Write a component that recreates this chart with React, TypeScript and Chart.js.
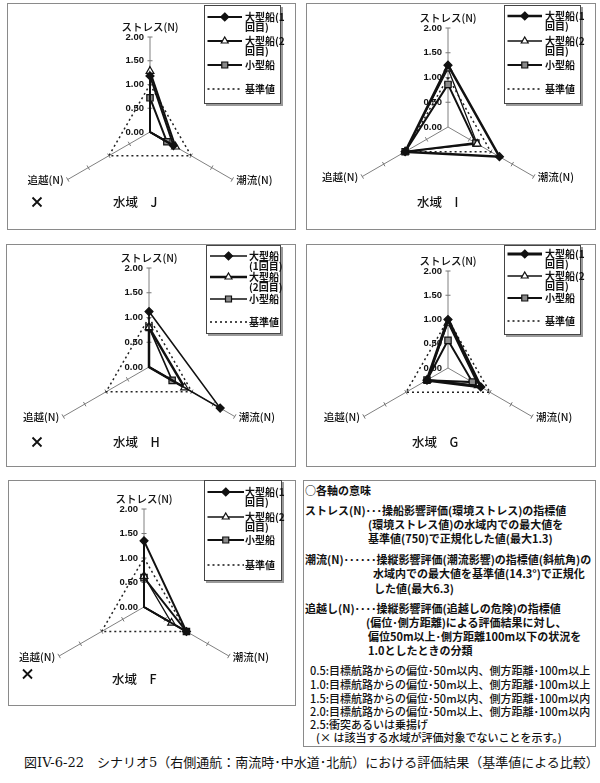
import React, { useEffect, useRef } from 'react';
import { Chart, registerables } from 'chart.js';
Chart.register(...registerables);

// ---- data ----
const axisLabels = ['ストレス(N)', '潮流(N)', '追越(N)'];
const tickValues = [0, 0.5, 1, 1.5, 2];
const seriesNames = ['大型船(1回目)', '大型船(2回目)', '小型船', '基準値'];
const baselineValues = [1, 1, 1];

const areaJ_large1 = [1.18, 0.57, 0];
const areaJ_large2 = [1.28, 0.62, 0];
const areaJ_small = [0.72, 0.41, 0];

const areaI_large1 = [1.25, 1.2, 1.0];
const areaI_large2 = [1.18, 0.68, 1.0];
const areaI_small = [0.86, 0.65, 1.0];

const areaH_large1 = [1.12, 1.66, 0];
const areaH_large2 = [0.8, 0.83, 0];
const areaH_small = [0.8, 0.54, 0];

const areaG_large1 = [1.0, 0.78, 0.5];
const areaG_large2 = [0.93, 0.72, 0.5];
const areaG_small = [0.57, 0.58, 0.5];

const areaF_large1 = [1.35, 1.0, 0];
const areaF_large2 = [0.63, 0.65, 0];
const areaF_small = [0.6, 1.0, 0];

const legendTextA = [['大型船(1', '回目)'], ['大型船(2', '回目)'], ['小型船'], ['基準値']];
const legendTextB = [['大型船', '(1回目)'], ['大型船', '(2回目)'], ['小型船'], ['基準値']];

const noteLines = [
  '○各軸の意味',
  'ストレス(N)･･･操船影響評価(環境ストレス)の指標値',
  '(環境ストレス値)の水域内での最大値を',
  '基準値(750)で正規化した値(最大1.3)',
  '潮流(N)･･････操縦影響評価(潮流影響)の指標値(斜航角)の',
  '水域内での最大値を基準値(14.3°)で正規化',
  'した値(最大6.3)',
  '追越し(N)････操縦影響評価(追越しの危険)の指標値',
  '(偏位･側方距離)による評価結果に対し、',
  '偏位50m以上･側方距離100m以下の状況を',
  '1.0としたときの分類',
  '0.5:目標航路からの偏位･50m以内、側方距離･100m以上',
  '1.0:目標航路からの偏位･50m以上、側方距離･100m以上',
  '1.5:目標航路からの偏位･50m以内、側方距離･100m以内',
  '2.0:目標航路からの偏位･50m以上、側方距離･100m以内',
  '2.5:衝突あるいは乗揚げ',
  '(× は該当する水域が評価対象でないことを示す。)',
];
const captionText = '図IV-6-22　シナリオ5（右側通航：南流時･中水道･北航）における評価結果（基準値による比較）';

// ---- layout ----
const noteLayout = [
  [305, 490], [305, 510], [368, 524], [368, 538], [305, 559], [373, 573], [374, 588],
  [305, 608], [366, 622], [368, 636], [368, 650], [310, 670], [310, 684], [310, 698],
  [310, 711], [310, 724], [316, 737],
];

type PanelCfg = {
  key: string; left: number; top: number; width: number; height: number;
  cx: number; cy: number; r: number; data: number[][]; widths: number[];
  legend: string[][]; legendBox: number[]; legendRows: number[]; legendX: number[];
  title: string; titleX: number; titleY: number; cross?: number[];
};

const panels: PanelCfg[] = [
  { key: 'J', left: 7, top: 3, width: 289, height: 227, cx: 143, cy: 129, r: 95,
    data: [areaJ_large1, areaJ_large2, areaJ_small], widths: [2, 2, 2],
    legend: legendTextA, legendBox: [197, 2, 77, 99], legendRows: [12, 36, 60, 84], legendX: [3.5, 38, 41],
    title: '水域　J', titleX: 106, titleY: 199, cross: [30, 199] },
  { key: 'I', left: 306, top: 3, width: 290, height: 227, cx: 142, cy: 124, r: 99,
    data: [areaI_large1, areaI_large2, areaI_small], widths: [2.5, 1.3, 2],
    legend: legendTextA, legendBox: [198, 2, 77, 99], legendRows: [11, 36, 60, 84], legendX: [3.5, 38, 41],
    title: '水域　I', titleX: 111, titleY: 199 },
  { key: 'H', left: 6, top: 244, width: 290, height: 223, cx: 143, cy: 123, r: 99,
    data: [areaH_large1, areaH_large2, areaH_small], widths: [1.6, 2.5, 1.6],
    legend: legendTextB, legendBox: [200, 1, 75, 89], legendRows: [11, 32, 54, 77], legendX: [4, 41, 43],
    title: '水域　H', titleX: 107, titleY: 198, cross: [31, 198] },
  { key: 'G', left: 306, top: 244, width: 290, height: 223, cx: 142, cy: 124, r: 97,
    data: [areaG_large1, areaG_large2, areaG_small], widths: [3, 1.3, 2],
    legend: legendTextA, legendBox: [198, 1, 77, 90], legendRows: [9, 31, 53, 76], legendX: [3.5, 38, 41],
    title: '水域　G', titleX: 106, titleY: 198 },
  { key: 'F', left: 8, top: 480, width: 288, height: 226, cx: 136, cy: 127, r: 98,
    data: [areaF_large1, areaF_large2, areaF_small], widths: [2, 1.3, 2],
    legend: legendTextA, legendBox: [196, 0, 78, 101], legendRows: [12, 37, 60, 85], legendX: [3.5, 40, 41],
    title: '水域　F', titleX: 104, titleY: 199, cross: [19.5, 194] },
];

const JP = '"Noto Sans CJK JP", "Noto Sans", sans-serif';
const LAT = '"Liberation Sans", Arial, sans-serif';
const INK = '#111';
const markerStyles = ['rectRot', 'triangle', 'rect'];
const markerFill = [INK, '#fff', '#8a8a8a'];

function drawMarker(ctx: CanvasRenderingContext2D, style: string, x: number, y: number, r: number, fill: string) {
  ctx.beginPath();
  if (style === 'rectRot') {
    ctx.moveTo(x, y - r); ctx.lineTo(x + r, y); ctx.lineTo(x, y + r); ctx.lineTo(x - r, y); ctx.closePath();
  } else if (style === 'triangle') {
    ctx.moveTo(x, y - r); ctx.lineTo(x + r * 0.87, y + r * 0.5); ctx.lineTo(x - r * 0.87, y + r * 0.5); ctx.closePath();
  } else {
    const s = r * 0.75;
    ctx.rect(x - s, y - s, 2 * s, 2 * s);
  }
  ctx.fillStyle = fill; ctx.fill();
  ctx.lineWidth = 1.2; ctx.strokeStyle = INK; ctx.setLineDash([]); ctx.stroke();
}

function RadarPanel({ p }: { p: PanelCfg }) {
  const ref = useRef<HTMLCanvasElement | null>(null);
  useEffect(() => {
    const canvas = ref.current;
    if (!canvas) return;
    const decor = {
      id: 'decor' + p.key,
      beforeDatasetsDraw(chart: any) {
        const ctx = chart.ctx as CanvasRenderingContext2D;
        const scale = chart.scales.r;
        ctx.save();
        ctx.strokeStyle = '#777';
        ctx.lineWidth = 1;
        for (let i = 0; i < axisLabels.length; i++) {
          for (const v of tickValues) {
            if (v === 0) continue;
            const pt = scale.getPointPositionForValue(i, v);
            const nx = -Math.sin(pt.angle), ny = Math.cos(pt.angle);
            ctx.beginPath();
            ctx.moveTo(pt.x - nx * 2.5, pt.y - ny * 2.5);
            ctx.lineTo(pt.x + nx * 2.5, pt.y + ny * 2.5);
            ctx.stroke();
          }
        }
        ctx.restore();
      },
      afterDraw(chart: any) {
        const ctx = chart.ctx as CanvasRenderingContext2D;
        const scale = chart.scales.r;
        ctx.save();
        ctx.fillStyle = INK;
        // tick labels
        ctx.font = `bold 9.5px ${LAT}`;
        ctx.textAlign = 'right';
        ctx.textBaseline = 'middle';
        for (const v of tickValues) {
          const pt = scale.getPointPositionForValue(0, v);
          ctx.fillText(v.toFixed(2), pt.x - 6, pt.y);
        }
        // point labels
        ctx.font = `500 10.5px ${JP}`;
        const e0 = scale.getPointPositionForValue(0, 2);
        ctx.textAlign = 'center';
        ctx.fillText(axisLabels[0], e0.x, e0.y - 10);
        const e1 = scale.getPointPositionForValue(1, 2);
        ctx.textAlign = 'left';
        ctx.fillText(axisLabels[1], e1.x + 4, e1.y + 1);
        const e2 = scale.getPointPositionForValue(2, 2);
        ctx.textAlign = 'right';
        ctx.fillText(axisLabels[2], e2.x - 4, e2.y + 1);
        // title
        ctx.font = `500 12.5px ${JP}`;
        ctx.textAlign = 'left';
        ctx.fillText(p.title, p.titleX, p.titleY);
        // cross
        if (p.cross) {
          const [x, y] = p.cross;
          ctx.strokeStyle = INK; ctx.lineWidth = 1.8;
          ctx.beginPath();
          ctx.moveTo(x - 4.5, y - 4.5); ctx.lineTo(x + 4.5, y + 4.5);
          ctx.moveTo(x + 4.5, y - 4.5); ctx.lineTo(x - 4.5, y + 4.5);
          ctx.stroke();
        }
        // legend
        const [bx, by, bw, bh] = p.legendBox;
        ctx.fillStyle = '#9a9a9a';
        ctx.fillRect(bx + 2, by + 2, bw, bh);
        ctx.fillStyle = '#fff';
        ctx.fillRect(bx, by, bw, bh);
        ctx.strokeStyle = '#444'; ctx.lineWidth = 1;
        ctx.strokeRect(bx + 0.5, by + 0.5, bw - 1, bh - 1);
        const [lx1, lx2, tx] = p.legendX;
        for (let k = 0; k < 4; k++) {
          const yy = by + p.legendRows[k];
          ctx.beginPath();
          ctx.moveTo(bx + lx1, yy); ctx.lineTo(bx + lx2, yy);
          ctx.strokeStyle = INK;
          if (k === 3) { ctx.setLineDash([2, 3]); ctx.lineWidth = 1.5; }
          else { ctx.setLineDash([]); ctx.lineWidth = p.widths[k]; }
          ctx.stroke();
          ctx.setLineDash([]);
          if (k < 3) drawMarker(ctx, markerStyles[k], bx + (lx1 + lx2) / 2, yy, 4, markerFill[k]);
          ctx.fillStyle = INK;
          ctx.font = `bold 10px ${JP}`;
          ctx.textAlign = 'left';
          ctx.textBaseline = 'middle';
          p.legend[k].forEach((line, li) => ctx.fillText(line, bx + tx, yy + li * 10));
        }
        ctx.restore();
      },
    };
    const hideZero = (r: number) => (c: any) => (c.raw === 0 ? 0 : r);
    const dsBase = { fill: false, clip: false as any, borderColor: INK, pointBorderColor: INK, pointBorderWidth: 1.2 };
    const chart = new Chart(canvas, {
      type: 'radar',
      data: {
        labels: axisLabels,
        datasets: [
          { ...dsBase, label: seriesNames[0], data: p.data[0], borderWidth: p.widths[0], pointStyle: 'rectRot', pointRadius: hideZero(4), pointBackgroundColor: markerFill[0] },
          { ...dsBase, label: seriesNames[1], data: p.data[1], borderWidth: p.widths[1], pointStyle: 'triangle', pointRadius: hideZero(4.5), pointBackgroundColor: markerFill[1] },
          { ...dsBase, label: seriesNames[2], data: p.data[2], borderWidth: p.widths[2], pointStyle: 'rect', pointRadius: hideZero(4.5), pointBackgroundColor: markerFill[2] },
          { ...dsBase, label: seriesNames[3], data: baselineValues, borderWidth: 1.5, borderDash: [2, 3], borderColor: '#222', pointRadius: 0 },
        ],
      } as any,
      options: {
        responsive: false,
        animation: false,
        layout: { padding: { left: p.cx - p.r, top: p.cy - p.r, right: p.width - p.cx - p.r, bottom: p.height - p.cy - p.r } },
        plugins: { legend: { display: false }, tooltip: { enabled: false } },
        elements: { line: { tension: 0 } },
        scales: {
          r: {
            min: 0, max: 2,
            ticks: { display: false, stepSize: 0.5 },
            grid: { display: false },
            angleLines: { display: true, color: '#808080', lineWidth: 1 },
            pointLabels: { display: false },
          },
        },
      } as any,
      plugins: [decor],
    });
    return () => chart.destroy();
  }, [p]);
  return (
    <div style={{ position: 'absolute', left: p.left, top: p.top, width: p.width, height: p.height, border: '1px solid #8a8a8a', boxSizing: 'border-box', background: '#fff' }}>
      <canvas ref={ref} width={p.width} height={p.height} style={{ position: 'absolute', left: -1, top: -1, width: p.width, height: p.height }} />
    </div>
  );
}

export default function App() {
  return (
    <div style={{ position: 'absolute', left: 0, top: 0, width: 600, height: 783, background: '#fff', overflow: 'hidden' }}>
      {panels.map((p) => <RadarPanel key={p.key} p={p} />)}
      <div style={{ position: 'absolute', left: 303, top: 480, width: 293, height: 267, border: '1px solid #8a8a8a', boxSizing: 'border-box' }} />
      {noteLines.map((t, i) => (
        <div key={i} style={{ position: 'absolute', left: noteLayout[i][0], top: noteLayout[i][1] - 8, lineHeight: '16px', fontSize: 11, fontFamily: JP, fontWeight: i >= 11 ? 500 : 700, color: INK, whiteSpace: 'nowrap' }}>{t}</div>
      ))}
      <div style={{ position: 'absolute', left: 24, top: 755, lineHeight: '16px', fontSize: 13, fontFamily: '"DejaVu Serif", "Liberation Serif", "Noto Sans CJK JP", serif', color: INK, whiteSpace: 'nowrap' }}>{captionText}</div>
    </div>
  );
}
